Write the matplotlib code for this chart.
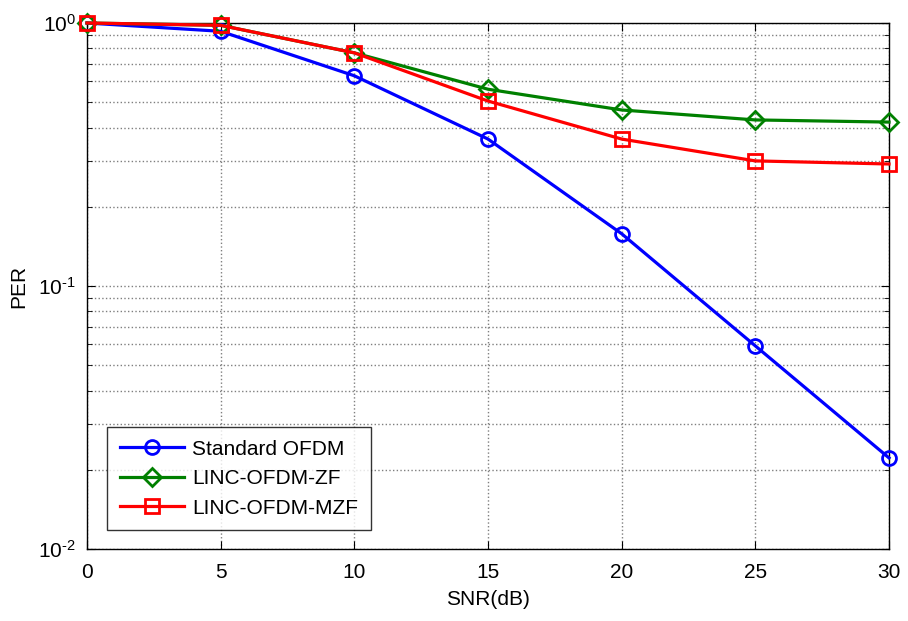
import matplotlib
matplotlib.use("Agg")
import matplotlib.pyplot as plt
from matplotlib.ticker import LogLocator, NullFormatter, FuncFormatter
import numpy as np

plt.rcParams['font.family'] = ['Liberation Sans', 'DejaVu Sans']
plt.rcParams['mathtext.default'] = 'regular'

snr = [0, 5, 10, 15, 20, 25, 30]
per_standard = [1.0, 0.93, 0.63, 0.362, 0.158, 0.0592, 0.0222]
per_zf = [1.0, 0.98, 0.77, 0.56, 0.467, 0.428, 0.42]
per_mzf = [1.0, 0.98, 0.77, 0.505, 0.362, 0.299, 0.291]
labels = ['Standard OFDM', 'LINC-OFDM-ZF', 'LINC-OFDM-MZF']

fig = plt.figure(figsize=(9.08, 6.21), dpi=100)
ax = fig.add_axes([87/908, 1 - 549/621, (889 - 87)/908, (549 - 23)/621])

common = dict(markerfacecolor='none', markeredgewidth=2.0, linewidth=2.3, clip_on=False, zorder=3)
ax.semilogy(snr, per_standard, color='#0000ff', marker='o', markersize=10, label=labels[0], **common)
ax.semilogy(snr, per_zf, color='#008000', marker='D', markersize=9.5, label=labels[1], **common)
ax.semilogy(snr, per_mzf, color='#ff0000', marker='s', markersize=10, label=labels[2], **common)

ax.set_xlim(0, 30)
ax.set_ylim(1e-2, 1)
ax.set_xticks(snr)
ax.yaxis.set_major_locator(LogLocator(base=10, numticks=10))
ax.yaxis.set_minor_locator(LogLocator(base=10, subs=range(2, 10), numticks=20))
ax.yaxis.set_minor_formatter(NullFormatter())


def decade_label(v, pos):
    e = int(round(np.log10(v)))
    return r'$10^{%s}$' % (str(e).replace('-', '\u2010'))


ax.yaxis.set_major_formatter(FuncFormatter(decade_label))

ax.grid(True, which='major', color='#7f7f7f', linestyle=':', linewidth=1.0)
ax.grid(True, which='minor', axis='y', color='#7f7f7f', linestyle=':', linewidth=1.0)

ax.tick_params(which='both', direction='in', top=True, right=True, labelsize=15)
ax.tick_params(which='major', length=6)
ax.tick_params(which='minor', length=3.5)
ax.tick_params(axis='x', pad=10)
ax.tick_params(axis='y', pad=8)
for sp in ax.spines.values():
    sp.set_linewidth(1.0)

ax.set_xlabel('SNR(dB)', fontsize=15, labelpad=6)
ax.set_ylabel('PER', fontsize=15, labelpad=7)

leg = ax.legend(loc='lower left', bbox_to_anchor=(20/802, 19/526), borderaxespad=0,
                fontsize=15, frameon=True, fancybox=False, edgecolor='black',
                handlelength=3.1, handletextpad=0.4, borderpad=0.6, labelspacing=0.5)
leg.get_frame().set_linewidth(1.0)

fig.savefig('out.png', dpi=100, facecolor='white')
